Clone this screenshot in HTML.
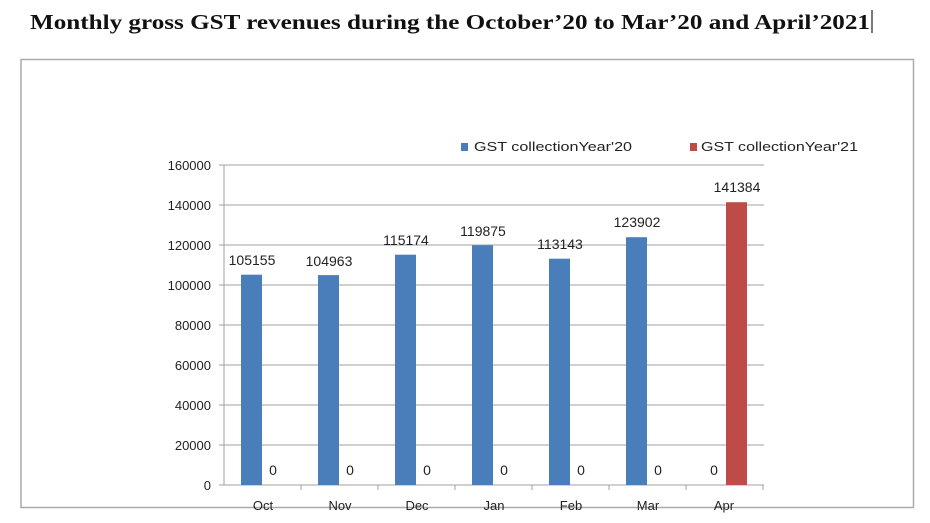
<!DOCTYPE html>
<html><head><meta charset="utf-8"><style>
body{margin:0;background:#fff;}
svg{display:block;}
</style></head><body>
<svg width="930" height="523" xmlns="http://www.w3.org/2000/svg" font-family="Liberation Sans, sans-serif">
<rect width="930" height="523" fill="#fff"/>
<text x="30" y="29" font-family="Liberation Serif, serif" font-weight="bold" font-size="21" textLength="840" lengthAdjust="spacingAndGlyphs" fill="#111">Monthly gross GST revenues during the October’20 to Mar’20 and April’2021</text>
<line x1="872" y1="10" x2="872" y2="33" stroke="#222" stroke-width="1.2"/>
<rect x="21" y="59.5" width="892.5" height="448" fill="#fff" stroke="#aaa" stroke-width="1.5"/>
<g stroke="#a0a0a0" stroke-width="1">
<line x1="224" y1="165" x2="764" y2="165"/>
<line x1="224" y1="205" x2="764" y2="205"/>
<line x1="224" y1="245" x2="764" y2="245"/>
<line x1="224" y1="285" x2="764" y2="285"/>
<line x1="224" y1="325" x2="764" y2="325"/>
<line x1="224" y1="365" x2="764" y2="365"/>
<line x1="224" y1="405" x2="764" y2="405"/>
<line x1="224" y1="445" x2="764" y2="445"/>
<line x1="224" y1="165" x2="224" y2="485"/>
<line x1="219" y1="485" x2="764" y2="485"/>
<line x1="219" y1="165" x2="224" y2="165"/><line x1="219" y1="205" x2="224" y2="205"/><line x1="219" y1="245" x2="224" y2="245"/><line x1="219" y1="285" x2="224" y2="285"/><line x1="219" y1="325" x2="224" y2="325"/><line x1="219" y1="365" x2="224" y2="365"/><line x1="219" y1="405" x2="224" y2="405"/><line x1="219" y1="445" x2="224" y2="445"/>
<line x1="301" y1="485" x2="301" y2="490"/><line x1="378" y1="485" x2="378" y2="490"/><line x1="455" y1="485" x2="455" y2="490"/><line x1="532" y1="485" x2="532" y2="490"/><line x1="609" y1="485" x2="609" y2="490"/><line x1="686" y1="485" x2="686" y2="490"/><line x1="763" y1="485" x2="763" y2="490"/>
</g>
<g font-size="13" fill="#222" text-anchor="end">
<text x="211" y="170">160000</text><text x="211" y="210">140000</text><text x="211" y="250">120000</text><text x="211" y="290">100000</text><text x="211" y="330">80000</text><text x="211" y="370">60000</text><text x="211" y="410">40000</text><text x="211" y="450">20000</text><text x="211" y="490">0</text>
</g>
<g fill="#4a7ebb">
<rect x="241" y="274.7" width="21" height="210.3"/>
<rect x="318" y="275.1" width="21" height="209.9"/>
<rect x="395" y="254.7" width="21" height="230.3"/>
<rect x="472" y="245.3" width="21" height="239.7"/>
<rect x="549" y="258.7" width="21" height="226.3"/>
<rect x="626" y="237.2" width="21" height="247.8"/>
</g>
<rect x="726" y="202.2" width="21" height="282.8" fill="#be4b48"/>
<g font-size="14" fill="#222" text-anchor="middle">
<text x="252" y="265">105155</text><text x="329" y="266">104963</text><text x="406" y="245">115174</text><text x="483" y="236">119875</text><text x="560" y="249">113143</text><text x="637" y="227">123902</text><text x="737" y="192">141384</text>
<text x="273" y="475">0</text><text x="350" y="475">0</text><text x="427" y="475">0</text><text x="504" y="475">0</text><text x="581" y="475">0</text><text x="658" y="475">0</text><text x="714" y="475">0</text>
</g>
<g font-size="13" fill="#222" text-anchor="middle">
<text x="263" y="510">Oct</text><text x="340" y="510">Nov</text><text x="417" y="510">Dec</text><text x="494" y="510">Jan</text><text x="571" y="510">Feb</text><text x="648" y="510">Mar</text><text x="724" y="510">Apr</text>
</g>
<rect x="461" y="143" width="7" height="8" fill="#4a7ebb"/>
<text x="474" y="151" font-size="13" fill="#222" textLength="158" lengthAdjust="spacingAndGlyphs">GST collectionYear'20</text>
<rect x="690" y="143" width="7" height="8" fill="#be4b48"/>
<text x="701" y="151" font-size="13" fill="#222" textLength="157" lengthAdjust="spacingAndGlyphs">GST collectionYear'21</text>
</svg>
</body></html>
